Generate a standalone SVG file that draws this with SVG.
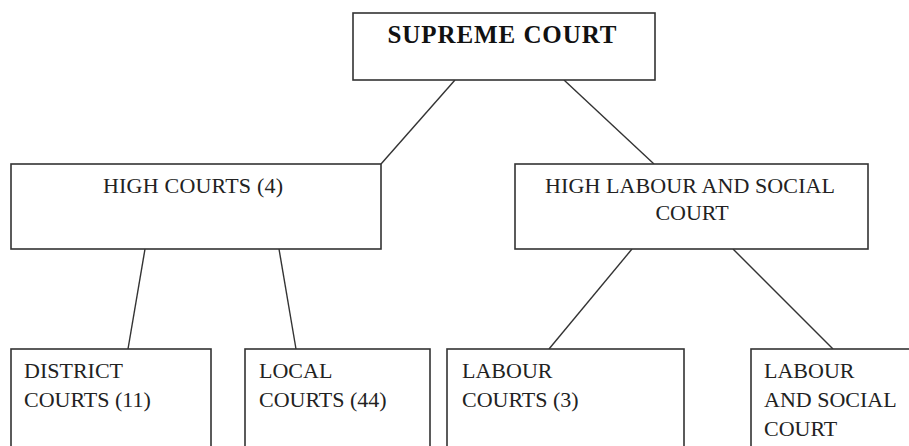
<svg xmlns="http://www.w3.org/2000/svg" width="909" height="446" viewBox="0 0 909 446">
<style>
.box{fill:#fff;stroke:#333;stroke-width:1.6}
.ln{stroke:#333;stroke-width:1.4;fill:none}
text{font-family:"Liberation Serif","Times New Roman",serif;font-size:22px;fill:#222}
.b{font-weight:bold;font-size:25px;fill:#111}
</style>
<rect width="909" height="446" fill="#fff"/>
<g id="connectors">
<line class="ln" x1="455" y1="80" x2="381" y2="164"/>
<line class="ln" x1="564" y1="80" x2="654" y2="164"/>
<line class="ln" x1="145" y1="249" x2="128" y2="349"/>
<line class="ln" x1="279" y1="249" x2="296" y2="349"/>
<line class="ln" x1="632" y1="249" x2="549" y2="349"/>
<line class="ln" x1="733" y1="249" x2="833" y2="349"/>
</g>
<g id="supreme">
<rect class="box" x="353" y="13" width="302" height="67"/>
<text class="b" x="502" y="43" text-anchor="middle" textLength="229">SUPREME COURT</text>
</g>
<g id="high-courts">
<rect class="box" x="11" y="164" width="370" height="85"/>
<text x="193" y="193" text-anchor="middle" textLength="180">HIGH COURTS (4)</text>
</g>
<g id="high-labour">
<rect class="box" x="515" y="164" width="353" height="85"/>
<text x="690" y="193" text-anchor="middle" textLength="290">HIGH LABOUR AND SOCIAL</text>
<text x="692" y="220" text-anchor="middle">COURT</text>
</g>
<g id="district">
<rect class="box" x="11" y="349" width="200" height="110"/>
<text x="24" y="378">DISTRICT</text>
<text x="24" y="407">COURTS (11)</text>
</g>
<g id="local">
<rect class="box" x="245" y="349" width="185" height="110"/>
<text x="259" y="378">LOCAL</text>
<text x="259" y="407">COURTS (44)</text>
</g>
<g id="labour">
<rect class="box" x="447" y="349" width="237" height="110"/>
<text x="462" y="378">LABOUR</text>
<text x="462" y="407">COURTS (3)</text>
</g>
<g id="labour-social">
<rect class="box" x="751" y="349" width="170" height="110"/>
<text x="764" y="378">LABOUR</text>
<text x="764" y="407">AND SOCIAL</text>
<text x="764" y="436">COURT</text>
</g>
</svg>
